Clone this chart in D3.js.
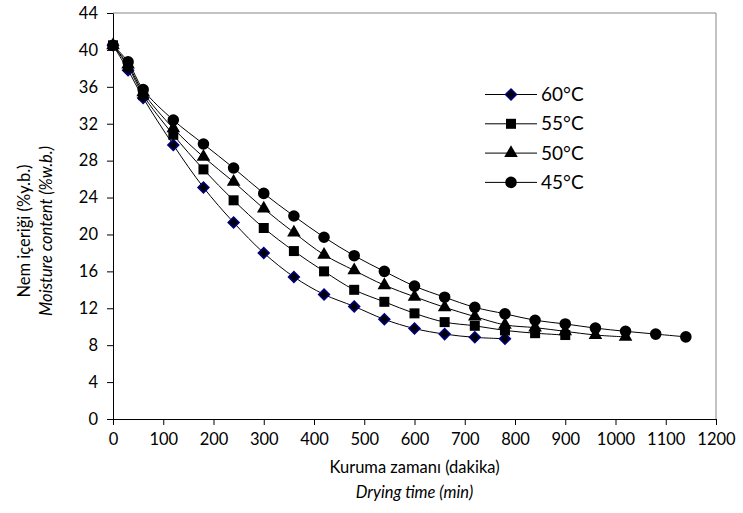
<!DOCTYPE html>
<html>
<head>
<meta charset="utf-8">
<script src="https://cdn.jsdelivr.net/npm/d3@7"></script>
<style>
  body { margin: 0; background: #fff; }
  svg text { font-family: Lato, "Open Sans", sans-serif; fill: #000; }
</style>
</head>
<body>
<div id="chart"></div>
<script>
const width = 743, height = 513;
const margin = {top: 13, right: 27, bottom: 94, left: 113};

// drying time (min)
const times = [0, 30, 60, 120, 180, 240, 300, 360, 420, 480, 540, 600, 660, 720,
  780, 840, 900, 960, 1020, 1080, 1140];

// moisture content (% w.b.) per temperature
const m60 = [40.5, 37.8, 34.8, 29.7, 25.1, 21.3, 18.0, 15.4, 13.5, 12.2, 10.8, 9.8, 9.2, 8.85, 8.7];
const m55 = [40.5, 38.2, 35.1, 30.8, 27.05, 23.7, 20.7, 18.2, 16.0, 14.0, 12.7, 11.45, 10.5, 10.1, 9.6, 9.3, 9.1];
const m50 = [40.5, 38.4, 35.4, 31.5, 28.4, 25.7, 22.8, 20.2, 17.8, 16.1, 14.5, 13.25, 12.1, 11.1, 10.2, 9.9, 9.5, 9.1, 8.9];
const m45 = [40.5, 38.7, 35.7, 32.4, 29.8, 27.2, 24.45, 22.0, 19.7, 17.7, 16.0, 14.4, 13.2, 12.1, 11.4, 10.7, 10.3, 9.85, 9.5, 9.2, 8.9];

const labels = ['60°C', '55°C', '50°C', '45°C'];
const xTicks = d3.range(0, 1201, 100);
const yTicks = d3.range(0, 45, 4);

const series = [
  {name: labels[0], values: m60, shape: 'diamond'},
  {name: labels[1], values: m55, shape: 'square'},
  {name: labels[2], values: m50, shape: 'triangle'},
  {name: labels[3], values: m45, shape: 'circle'}
];

const font = 'Lato, "Open Sans", sans-serif';

const svg = d3.select('#chart').append('svg')
  .attr('width', width)
  .attr('height', height);

const x = d3.scaleLinear().domain([0, 1200]).range([margin.left, width - margin.right]);
const y = d3.scaleLinear().domain([0, 44]).range([height - margin.bottom, margin.top]);

// plot frame (top and right in grey)
svg.append('path')
  .attr('d', `M${x(0)},${y(44)}H${x(1200)}V${y(0)}`)
  .attr('fill', 'none')
  .attr('stroke', '#868686')
  .attr('stroke-width', 1);

const xAxis = svg.append('g')
  .attr('transform', `translate(0,${y(0)})`)
  .call(d3.axisBottom(x).tickValues(xTicks).tickFormat(d3.format('d'))
    .tickSize(6).tickPadding(8).tickSizeOuter(0));

const yAxis = svg.append('g')
  .attr('transform', `translate(${x(0)},0)`)
  .call(d3.axisLeft(y).tickValues(yTicks).tickFormat(d3.format('d'))
    .tickSize(6).tickPadding(9).tickSizeOuter(0));

[xAxis, yAxis].forEach(g => {
  g.selectAll('path, line').attr('stroke', '#000').attr('stroke-width', 1);
  g.selectAll('text').style('font-size', '16.5px').style('font-family', font);
});

// axis titles
const cx = (x(0) + x(1200)) / 2;
svg.append('text').attr('x', cx).attr('y', 473)
  .attr('text-anchor', 'middle').style('font-size', '16.5px')
  .text('Kuruma zamanı (dakika)');
svg.append('text').attr('x', cx).attr('y', 498)
  .attr('text-anchor', 'middle').style('font-size', '16.5px').style('font-style', 'italic')
  .text('Drying time (min)');

const cy = 231;
svg.append('text').attr('transform', `translate(30,${cy}) rotate(-90)`)
  .attr('text-anchor', 'middle').style('font-size', '16.5px')
  .text('Nem içeriği (%y.b.)');
svg.append('text').attr('transform', `translate(52,${cy}) rotate(-90)`)
  .attr('text-anchor', 'middle').style('font-size', '16.5px').style('font-style', 'italic')
  .text('Moisture content (%w.b.)');

const symbols = {
  diamond: d3.symbol().type(d3.symbolSquare).size(58),
  square: d3.symbol().type(d3.symbolSquare).size(100),
  triangle: d3.symbol().type(d3.symbolTriangle).size(80),
  circle: d3.symbol().type(d3.symbolCircle).size(105)
};

function drawMarker(g, shape, px, py) {
  const m = g.append('path')
    .attr('d', symbols[shape]())
    .attr('fill', '#000');
  if (shape === 'diamond') {
    m.attr('transform', `translate(${px},${py}) rotate(45)`)
      .attr('stroke', '#000080').attr('stroke-width', 1.6);
  } else {
    m.attr('transform', `translate(${px},${py})`);
  }
}

const line = d3.line()
  .x(d => x(d[0]))
  .y(d => y(d[1]))
  .curve(d3.curveCatmullRom.alpha(0.5));

// draw order so that the square sits on top at the start point
const order = [0, 3, 2, 1];
order.forEach(i => {
  const s = series[i];
  const pts = s.values.map((v, j) => [times[j], v]);
  svg.append('path')
    .datum(pts)
    .attr('d', line)
    .attr('fill', 'none')
    .attr('stroke', '#000')
    .attr('stroke-width', 1);
});
order.forEach(i => {
  const s = series[i];
  const g = svg.append('g');
  s.values.forEach((v, j) => drawMarker(g, s.shape, x(times[j]), y(v)));
});

// legend
const legend = svg.append('g');
series.forEach((s, i) => {
  const ly = 94.5 + i * 29.3;
  legend.append('line')
    .attr('x1', 485).attr('x2', 537)
    .attr('y1', ly).attr('y2', ly)
    .attr('stroke', '#000').attr('stroke-width', 1);
  drawMarker(legend, s.shape, 511, ly);
  legend.append('text')
    .attr('x', 541).attr('y', ly)
    .attr('dy', '0.35em')
    .style('font-size', '19px')
    .text(s.name);
});
</script>
</body>
</html>
